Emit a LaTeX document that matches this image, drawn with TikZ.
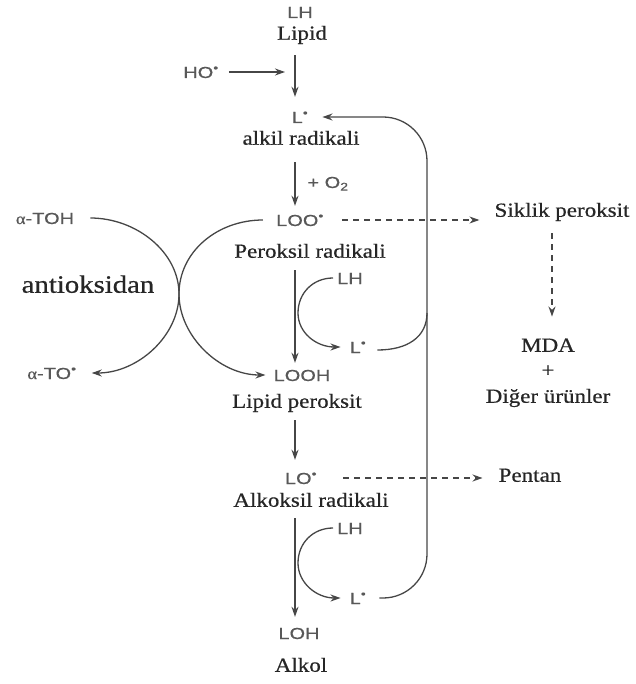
\documentclass[tikz,border=0pt]{standalone}
\usepackage{fontspec}
\setmainfont[FakeStretch=1.15, FakeBold=0.6]{Liberation Serif}
\newfontfamily\chemsans[FakeStretch=1.25, FakeBold=0.3]{Liberation Sans}
\usetikzlibrary{arrows.meta, positioning}
\definecolor{chemgray}{RGB}{88,88,88}
\definecolor{arrowgray}{RGB}{70,70,70}
\newcommand{\rad}{\textsuperscript{•}}

\begin{document}
\begin{tikzpicture}[x=1pt, y=-1pt,
    chem/.style={font=\chemsans\fontsize{16}{16}\selectfont, text=chemgray, inner sep=2pt, text height=12pt, text depth=0pt},
    nametext/.style={font=\fontsize{20}{20}\selectfont, text=black!85, inner sep=2pt, text height=14pt, text depth=4.5pt},
    react/.style={draw=arrowgray, line width=1.3pt, -{Stealth[length=10pt, width=7pt]}},
    sidereact/.style={react, dash pattern=on 6pt off 5pt},
    loopline/.style={draw=arrowgray, line width=1.3pt}
]
\useasboundingbox (0,0) rectangle (635,684);

% Lipid chain
\coordinate (spine) at (295,0);
\coordinate (loopx) at (427,0);
\node[chem] (lh) at (300,12) {LH};
\node[nametext] (lipid) at (302,35) {Lipid};
\node[chem] (ho) at (201,72) {HO\rad};
\node[chem] (l1) at (300,117) {L\rad};
\node[nametext] (alkil) at (301,140) {alkil radikali};
\node[chem] (oxy) at (328,182) {+ O\textsubscript{2}};
\node[chem] (loo) at (300,220) {LOO\rad};
\node[nametext] (perok) at (310,253) {Peroksil radikali};
\node[chem] (looh) at (302,375) {LOOH};
\node[nametext] (lperok) at (297,403) {Lipid peroksit};
\node[chem] (lo) at (301,478) {LO\rad};
\node[nametext] (alkoks) at (311,502) {Alkoksil radikali};
\node[chem] (loh) at (299,633) {LOH};
\node[nametext] (alkol) at (301,667) {Alkol};

% Side products
\node[nametext] (siklik) at (562,212) {Siklik peroksit};
\node[nametext] (mda) at (548,347) {MDA};
\node[nametext] (plus) at (548,372) {+};
\node[nametext] (diger) at (548,398) {Diğer ürünler};
\node[nametext] (pentan) at (530,477) {Pentan};

% Antioxidant
\node[chem] (atoh) at (45,218) {{\rmfamily α}-TOH};
\node[chem] (ato) at (52,373) {{\rmfamily α}-TO\rad};
\node[nametext, font=\fontsize{25}{25}\selectfont] (antiok) at (88,288) {antioksidan};

% Propagation
\node[chem] (lh2) at (350,278) {LH};
\node[chem] (l2) at (358,347) {L\rad};
\node[chem] (lh3) at (350,528) {LH};
\node[chem] (l3) at (358,598) {L\rad};

% Arrows
\draw[react, shorten <=9pt, shorten >=12pt] (spine |- lipid.south) -- (spine |- l1.north);
\draw[react, shorten <=8pt, shorten >=10pt] (ho.east) -- (spine |- ho.east);
\draw[react, shorten <=11pt, shorten >=6pt] (spine |- alkil.south) -- (spine |- loo.north);
\draw[react, shorten <=6pt, shorten >=4pt] (spine |- perok.south) -- (spine |- looh.north);
\draw[react, shorten <=6pt, shorten >=10pt] (spine |- lperok.south) -- (spine |- lo.north);
\draw[react, shorten <=5pt, shorten >=8pt] (spine |- alkoks.south) -- (spine |- loh.north);

\draw[sidereact, shorten <=16pt, shorten >=13pt] (loo.east) -- (loo.east -| siklik.west);
\draw[sidereact, shorten <=10pt, shorten >=19pt] ([xshift=4pt]mda.north |- siklik.south) -- ([xshift=4pt]mda.north);
\draw[sidereact, shorten <=24pt, shorten >=14pt] (lo.east) -- (lo.east -| pentan.west);

\draw[react] ([xshift=14pt]atoh.east) .. controls +(46,0) and +(0,-42) .. (179,294)
    .. controls +(0,42) and +(46,0) .. ([xshift=13pt]ato.east);
\draw[react] ([xshift=-11pt]loo.west) .. controls +(-46,0) and +(0,-42) .. (179,294)
    .. controls +(0,42) and +(-46,0) .. ([xshift=-6pt]looh.west);

\draw[react] ([xshift=-2pt]lh2.west) .. controls +(-20,0) and +(0,-20) .. (298,313)
    .. controls +(0,20) and +(-24,0) .. ([xshift=-7pt]l2.west);
\draw[react] ([xshift=-2pt]lh3.west) .. controls +(-20,0) and +(0,-20) .. (298,563)
    .. controls +(0,20) and +(-24,0) .. ([xshift=-7pt]l3.west);

\draw[react, rounded corners=44pt] ([xshift=11pt]l3.east) -| (loopx |- l1.east) -- ([xshift=12pt]l1.east);
\draw[loopline] ([xshift=9pt, yshift=-3pt]l2.east) .. controls +(30,0) and +(0,24) .. (loopx |- 0,313);

\end{tikzpicture}
\end{document}
